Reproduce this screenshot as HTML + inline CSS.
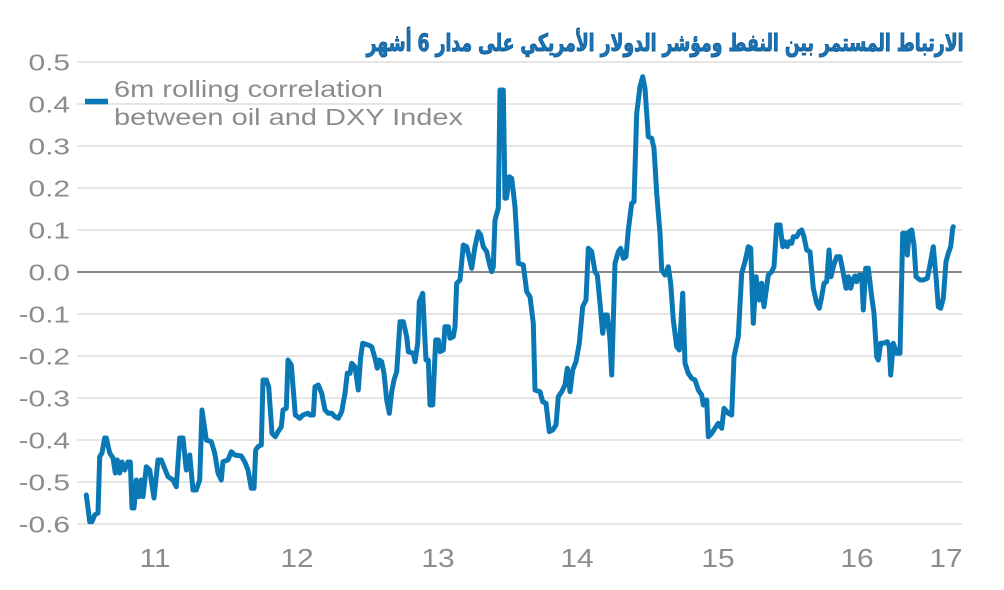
<!DOCTYPE html>
<html>
<head>
<meta charset="utf-8">
<style>
  html, body { margin: 0; padding: 0; background: #ffffff; }
  body { width: 1004px; height: 590px; overflow: hidden; }
  svg { display: block; }
  .lbl { font-family: "Liberation Sans", Arial, sans-serif; fill: #8c8c8c; }
</style>
</head>
<body>
<svg width="1004" height="590" viewBox="0 0 1004 590" xmlns="http://www.w3.org/2000/svg">
  <rect x="0" y="0" width="1004" height="590" fill="#ffffff"/>

  <!-- gridlines -->
  <g stroke="#e6e6e6" stroke-width="2">
    <line x1="77" y1="62" x2="962" y2="62"/>
    <line x1="77" y1="104" x2="962" y2="104"/>
    <line x1="77" y1="146" x2="962" y2="146"/>
    <line x1="77" y1="188" x2="962" y2="188"/>
    <line x1="77" y1="230" x2="962" y2="230"/>
    <line x1="77" y1="314" x2="962" y2="314"/>
    <line x1="77" y1="356" x2="962" y2="356"/>
    <line x1="77" y1="398" x2="962" y2="398"/>
    <line x1="77" y1="440" x2="962" y2="440"/>
    <line x1="77" y1="482" x2="962" y2="482"/>
    <line x1="77" y1="524" x2="962" y2="524"/>
  </g>
  <line x1="77" y1="272" x2="962" y2="272" stroke="#8a8a8a" stroke-width="2"/>

  <!-- title -->
  <text x="665" y="51" text-anchor="middle" textLength="597" lengthAdjust="spacingAndGlyphs"
        font-family="'DejaVu Sans', 'Liberation Sans', sans-serif" font-weight="bold" font-size="24"
        fill="#1b74b6" stroke="#145f98" stroke-width="1">الارتباط المستمر بين النفط ومؤشر الدولار الأمريكي على مدار 6 أشهر</text>

  <!-- y-axis labels -->
  <g class="lbl" font-size="23" text-anchor="end">
    <text transform="translate(70,70.5) scale(1.3,1)">0.5</text>
    <text transform="translate(70,112.5) scale(1.3,1)">0.4</text>
    <text transform="translate(70,154.5) scale(1.3,1)">0.3</text>
    <text transform="translate(70,196.5) scale(1.3,1)">0.2</text>
    <text transform="translate(70,238.5) scale(1.3,1)">0.1</text>
    <text transform="translate(70,280.5) scale(1.3,1)">0.0</text>
    <text transform="translate(70,322.5) scale(1.3,1)">-0.1</text>
    <text transform="translate(70,364.5) scale(1.3,1)">-0.2</text>
    <text transform="translate(70,406.5) scale(1.3,1)">-0.3</text>
    <text transform="translate(70,448.5) scale(1.3,1)">-0.4</text>
    <text transform="translate(70,490.5) scale(1.3,1)">-0.5</text>
    <text transform="translate(70,532.5) scale(1.3,1)">-0.6</text>
  </g>

  <!-- x-axis labels -->
  <g class="lbl" font-size="26" text-anchor="middle">
    <text transform="translate(155,567) scale(1.15,1)">11</text>
    <text transform="translate(297,567) scale(1.15,1)">12</text>
    <text transform="translate(438,567) scale(1.15,1)">13</text>
    <text transform="translate(577,567) scale(1.15,1)">14</text>
    <text transform="translate(718,567) scale(1.15,1)">15</text>
    <text transform="translate(857,567) scale(1.15,1)">16</text>
    <text transform="translate(946,567) scale(1.15,1)">17</text>
  </g>

  <!-- legend -->
  <line x1="85" y1="101.5" x2="108" y2="101.5" stroke="#0a78b5" stroke-width="5.5"/>
  <g class="lbl" font-size="23">
    <text transform="translate(114,97) scale(1.26,1)">6m rolling correlation</text>
    <text transform="translate(114,125) scale(1.26,1)">between oil and DXY Index</text>
  </g>

  <!-- series -->
  <polyline fill="none" stroke="#0a78b5" stroke-width="5" stroke-linejoin="round" stroke-linecap="round"
    points="86.3,495 89.7,521.7 92,521.7 94.7,515 98,513 99.7,456.7 102,453 104.7,438 106.3,438 109.7,453 113,458 115.3,473 117.3,460 119.7,473 122,462 124.7,470 128,462 130.3,462 132,508 134,508 136.3,480 138.7,496.7 141.3,480 143,496.7 146.3,466.7 149.7,470 154,498 158,460 161.3,460 165.3,470 168,476.7 173,480 176.3,486.7 179.7,438 183,438 186.3,470 189.7,455 193,490 196.3,490 199.7,480 202,410 206.3,440 211.3,441.7 214.7,453 218,473 221.3,480 223,461.7 228,460 231.3,451.7 234.7,455 241.3,456 244.7,461.7 248,470 251.3,488.3 254,488.3 255.7,450 258,446.7 261.3,445 263,380 266.3,380 268.7,386.7 272,433.3 275.3,436.7 278,431.7 281.3,426.7 283,410 286.3,408.3 288,360 291.3,365 295.3,415 299.7,418.3 303,415 308,413.3 310,415 313.3,415 315,386.7 318.3,385 321.7,393.3 325,410 328.3,413.3 331.7,413.3 335,416.7 338.3,418.3 341.7,411.7 345,393.3 347.3,373.3 350,373.3 351.7,363.3 355,366.7 358.3,390 360.7,356.7 362.7,343.3 368.3,345 371.7,346.7 375,358.3 377.3,368.3 379.3,360 381.7,361.7 384,373.3 386.7,400 389.3,413.3 391.7,391.7 394,380 396.7,371.7 400,321.7 403.3,321.7 406.7,336.7 408.3,351.7 413.3,353.3 415,361.7 417.7,343.3 419.3,301.7 422.7,293.3 424.3,326.7 426,360 428.3,360 430,405 432.7,405 435.7,340 438.3,340 440,351.7 443.3,350 445,326.7 448.3,326.7 450,338.3 453.3,336.7 455,326.7 456.7,283.3 460,280 463.3,245 466.7,246.7 471.7,268.3 475,246.7 478.3,231.7 480.7,235 483.3,246.7 486.7,251.7 489.3,263.3 491.7,271.7 493.3,266.7 495,220 498.3,208.3 500,90 503.3,90 505,198.3 506.5,198 509.3,176.7 511.7,178.3 515,206.7 518.3,263.3 523.3,265 526.7,291.7 530,296.7 533.3,323.3 535,390 540,391.7 542.7,401.7 546,403.3 549.3,431.7 552.7,430 556,425 558.3,396.7 561.7,391.7 565,385 567.3,368.3 570,391.7 572.7,370 576,361.7 579.3,343.3 582.7,306.7 586,300 588.3,248.3 591.7,251.7 595,271.7 597.3,275 600,303.3 602.7,333.3 605,315 607.3,315 610,340 611.7,375 615,263.3 618.3,251.7 620.7,248.3 623.3,258.3 626,256.7 628.3,230 631.7,203.3 634,201.7 636.7,113.3 640,86.7 642.7,76.7 645,88.3 648.3,136.7 651.7,138.3 654,148.3 656.7,193.3 660,233.3 661.7,270 665,275 668.3,266.7 670.7,283.3 673.3,320 676.7,346.7 679.3,350 682.7,293.3 685,363.3 688.3,373.3 691.7,378.3 695,380 698.3,390 701.7,395 703.3,405 706.7,400 708.3,436.7 711.7,433.3 715,428.3 718.3,423.3 721.7,428.3 724,408.3 728.3,413.3 731.7,415 734,356.7 738.3,336.7 741.7,273.3 745,261.7 748.3,246.7 750.7,248.3 753.3,323.3 756,276.7 759.3,300 761.7,283.3 764,306.7 766.7,286.7 768.3,275 771.7,271.7 774,266.7 776.7,225 780,225 782.7,246.7 785,241.7 787.3,246.7 789.3,241.7 791.7,243.3 793.3,236.7 796.7,236.7 799.3,231.7 801.7,230 804,236.7 806.7,250 810,251.7 813.3,288.3 816.7,303.3 819.3,308.3 821.7,296.7 824,283.3 826.7,281.7 829,250 831,276.7 833.3,266.7 836.7,256.7 840,256.7 842.7,270 846,288.3 848.3,276.7 850.7,288.3 853.3,278.3 855,276 856.7,281.7 858.3,278.3 859.3,275 861.7,275 863.3,310 865.7,268.3 868.3,268.3 871.7,296.7 874,313.3 876.7,356.7 878.3,360 880.7,343.3 883.3,343.3 887.3,341.7 889.3,346.7 890.7,375 893.3,343.3 896.7,353.3 900,353.3 902.7,233.3 906,233.3 907.3,255 909.3,231.7 911.7,230 914,245 916,276.7 920,280 923.3,280 927.3,278.3 930,265 933.3,246.7 936,276.7 938.3,306.7 940.7,308.3 943.3,298.3 946,261.7 948.3,253.3 950.7,246.7 952.7,228.3 953.3,226.7"/>
</svg>
</body>
</html>
